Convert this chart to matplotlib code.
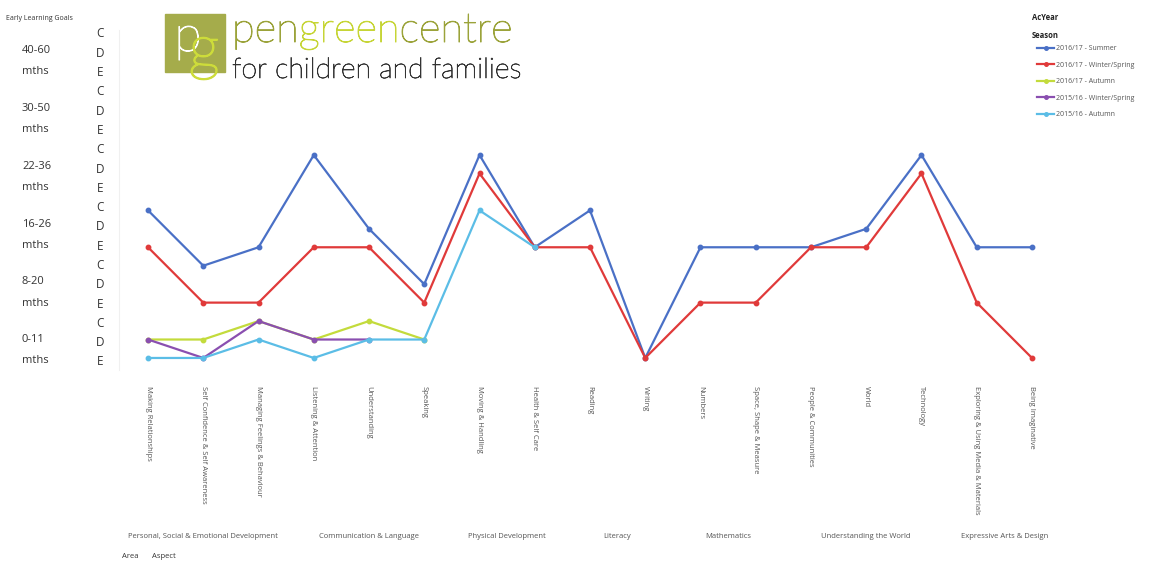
import numpy as np
import matplotlib
matplotlib.use("Agg")
import matplotlib.pyplot as plt
import matplotlib.transforms as mtransforms
import matplotlib.patheffects as pe
from matplotlib.patches import Rectangle

plt.rcParams['font.family'] = ['Open Sans', 'DejaVu Sans']

aspects = ["Making Relationships", "Self Confidence & Self Awareness",
           "Managing Feelings & Behaviour", "Listening & Attention",
           "Understanding", "Speaking", "Moving & Handling",
           "Health & Self Care", "Reading", "Writing", "Numbers",
           "Space, Shape & Measure", "People & Communities", "World",
           "Technology", "Exploring & Using Media & Materials",
           "Being Imaginative"]

# area name, first aspect index, last aspect index
areas = [("Personal, Social & Emotional Development", 0, 2),
         ("Communication & Language", 3, 5),
         ("Physical Development", 6, 7),
         ("Literacy", 8, 9),
         ("Mathematics", 10, 11),
         ("Understanding the World", 12, 14),
         ("Expressive Arts & Design", 15, 16)]

age_bands = ["0-11", "8-20", "16-26", "22-36", "30-50", "40-60"]
grades = ["E", "D", "C"]  # bottom to top inside each band

nan = np.nan
# level index: 0 = 0-11 E ... 17 = 40-60 C
summer_1617 = [8, 5, 6, 11, 7, 4, 11, 6, 8, 0, 6, 6, 6, 7, 11, 6, 6]
winter_1617 = [6, 3, 3, 6, 6, 3, 10, 6, 6, 0, 3, 3, 6, 6, 10, 3, 0]
autumn_1617 = [1, 1, 2, 1, 2, 1] + [nan] * 11
winter_1516 = [1, 0, 2, 1, 1] + [nan] * 12
autumn_1516 = [0, 0, 1, 0, 1, 1, 8, 6] + [nan] * 9

series = [("2016/17 - Summer", summer_1617, "#4a70c6"),
          ("2016/17 - Winter/Spring", winter_1617, "#e03a3a"),
          ("2016/17 - Autumn", autumn_1617, "#c3db3c"),
          ("2015/16 - Winter/Spring", winter_1516, "#8a4fb0"),
          ("2015/16 - Autumn", autumn_1516, "#5bbde6")]

W, H = 1154, 563
fig = plt.figure(figsize=(W / 100, H / 100), dpi=100)


def fx(px):
    return px / W


def fy(py):
    return 1 - py / H


# main plot
ax = fig.add_axes([fx(120.4), fy(363.5), fx(939.2), fy(145.8) - fy(363.5)])
x = np.arange(len(aspects))
lines = []
for name, vals, col in series:
    ln, = ax.plot(x, np.array(vals, dtype=float), color=col, lw=1.6,
                  marker="o", ms=3.2, label=name)
    lines.append(ln)
ax.set_xlim(-0.5, len(aspects) - 0.5)
ax.set_ylim(-0.3, 11.5)
for s in ax.spines.values():
    s.set_visible(False)
ax.set_yticks([])
ax.set_xticks(x)
ax.set_xticklabels(aspects, rotation=-90, fontsize=5.5, color="#555555",
                   va="top", ha="center")
ax.tick_params(axis="x", length=0, pad=16)

# area labels under the aspect labels
trans = mtransforms.blended_transform_factory(ax.transData, fig.transFigure)
for name, a, b in areas:
    ax.text((a + b) / 2, fy(536), name, transform=trans, ha="center",
            va="center", fontsize=5.5, color="#555555")
fig.text(fx(122), fy(556), "Area", fontsize=5.5, color="#333333", va="center")
fig.text(fx(152), fy(556), "Aspect", fontsize=5.5, color="#333333", va="center")

# left level labels
lab = fig.add_axes([0, fy(371.6), fx(119), fy(24.35) - fy(371.6)])
lab.set_xlim(0, 119)
lab.set_ylim(-0.5, 17.5)
lab.axis("off")
for i, band in enumerate(age_bands):
    for j, g in enumerate(grades):
        lab.text(100, i * 3 + j, g, ha="center", va="center", fontsize=8.5,
                 color="#333333")
    lab.text(22, i * 3 + 1.15, band, ha="left", va="center", fontsize=8,
             color="#333333")
    lab.text(22, i * 3 + 0.05, "mths", ha="left", va="center", fontsize=8,
             color="#333333")
fig.add_artist(plt.Line2D([fx(119), fx(119)], [fy(30), fy(370)],
                          color="#f0f0f0", lw=0.8))
fig.text(fx(6), fy(18), "Early Learning Goals", fontsize=5, color="#333333",
         va="center")

# legend
fig.text(fx(1032), fy(18), "AcYear", fontsize=5.5, color="#222222",
         va="center", fontweight="bold")
fig.text(fx(1032), fy(35), "Season", fontsize=5.5, color="#222222",
         va="center", fontweight="bold")
fig.legend(handles=lines, loc="upper left",
           bbox_to_anchor=(fx(1034), fy(42)), frameon=False, fontsize=5,
           handlelength=2.4, handletextpad=0.3, labelspacing=1.35,
           labelcolor="#555555", borderpad=0, markerscale=0.8)

# logo
fig.add_artist(Rectangle((fx(165), fy(72)), fx(60), fy(14) - fy(72),
                         transform=fig.transFigure, color="#a5ac4b", zorder=1))
fig.text(fx(188), fy(51), "p", fontsize=36, color="white", ha="center",
         va="baseline", family="Lato", weight="light", zorder=2,
         path_effects=[pe.withStroke(linewidth=0.8, foreground="white")])
fig.text(fx(204), fy(68), "g", fontsize=44, color="#cddc3a", ha="center",
         va="baseline", family="Lato", weight="light", zorder=3,
         path_effects=[pe.withStroke(linewidth=1.2, foreground="#cddc3a")])

fig.canvas.draw()
r = fig.canvas.get_renderer()
xpos = fx(232)
for part, col in [("pen", "#9ba33a"), ("green", "#c6d536"), ("centre", "#9ba33a")]:
    t = fig.text(xpos, fy(42), part, fontsize=30, color=col, va="baseline",
                 family="Lato", weight="light",
                 path_effects=[pe.withStroke(linewidth=0.7, foreground=col)])
    bb = t.get_window_extent(renderer=r)
    xpos = bb.x1 / W
fig.text(fx(232), fy(78), "for children and families", fontsize=20.5,
         color="#333333", va="baseline", family="Lato", weight="light",
         path_effects=[pe.withStroke(linewidth=0.5, foreground="#333333")])

fig.savefig("out.png", dpi=100)
